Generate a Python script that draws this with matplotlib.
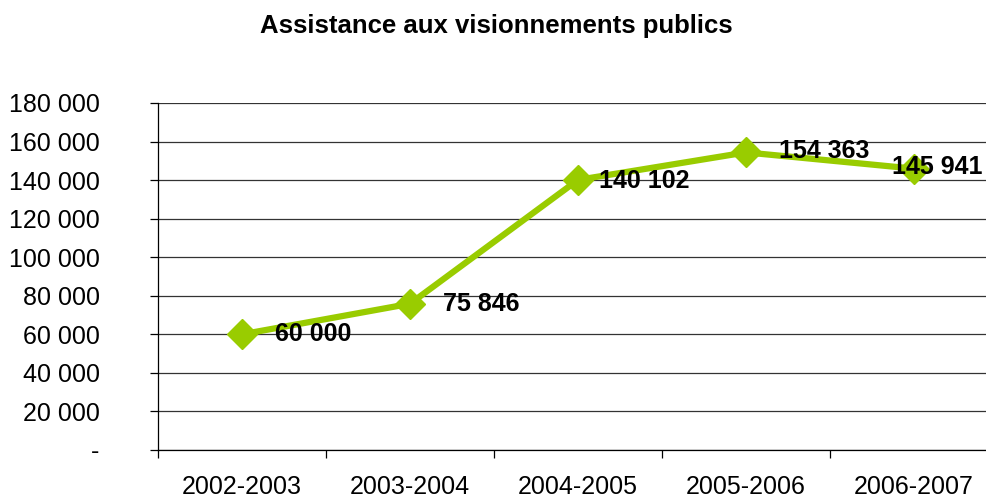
import matplotlib.pyplot as plt
from matplotlib.ticker import FuncFormatter, FixedLocator

plt.rcParams['font.family'] = ['Liberation Sans', 'DejaVu Sans']

seasons = ['2002-2003', '2003-2004', '2004-2005', '2005-2006', '2006-2007']
attendance = [60000, 75846, 140102, 154363, 145941]

# label offsets in points (Excel pushes last ones left)
label_dx = [24, 24, 15, 24, -16]
label_dy = [0, 0, -1, 1, 1]

fig = plt.figure(figsize=(9.86, 4.98), dpi=100)
ax = fig.add_axes([0.1602, 0.0964, 0.852, 0.6968])

x = list(range(len(seasons)))
ax.plot(x, attendance, color='#99cc00', lw=4.5, marker='D', markersize=15,
        markeredgecolor='#99cc00', zorder=3, clip_on=False)

def fmt_num(v):
    return f'{int(round(v)):,}'.replace(',', ' ')

for i, v in enumerate(attendance):
    ax.annotate(fmt_num(v), (i, v), xytext=(label_dx[i], label_dy[i]),
                textcoords='offset points', ha='left', va='center',
                fontsize=18, fontweight='bold', zorder=4)

ax.set_ylim(0, 180000)
ax.set_yticks(range(0, 180001, 20000))
ax.yaxis.set_major_formatter(FuncFormatter(lambda v, p: '-' if v == 0 else fmt_num(v)))
ax.grid(True, axis='y', color='#333333', lw=0.9)
ax.set_axisbelow(True)

ax.set_xlim(-0.5, len(seasons) - 0.5)
ax.xaxis.set_major_locator(FixedLocator([i - 0.5 for i in range(len(seasons) + 1)]))
ax.xaxis.set_major_formatter(FuncFormatter(lambda v, p: ''))
ax.xaxis.set_minor_locator(FixedLocator(x))
ax.set_xticklabels(seasons, minor=True)
ax.tick_params(axis='x', which='major', length=6, width=0.9, direction='out')
ax.tick_params(axis='x', which='minor', length=0, pad=18, labelsize=18)
ax.tick_params(axis='y', length=6, width=0.9, direction='out', pad=36, labelsize=18)

for s in ['top', 'right']:
    ax.spines[s].set_visible(False)
ax.spines['left'].set_linewidth(0.9)
ax.spines['bottom'].set_linewidth(0.9)

fig.text(0.5036, 0.948, 'Assistance aux visionnements publics', ha='center', va='center',
         fontsize=18.5, fontweight='bold')

fig.savefig('out.png', dpi=100)
